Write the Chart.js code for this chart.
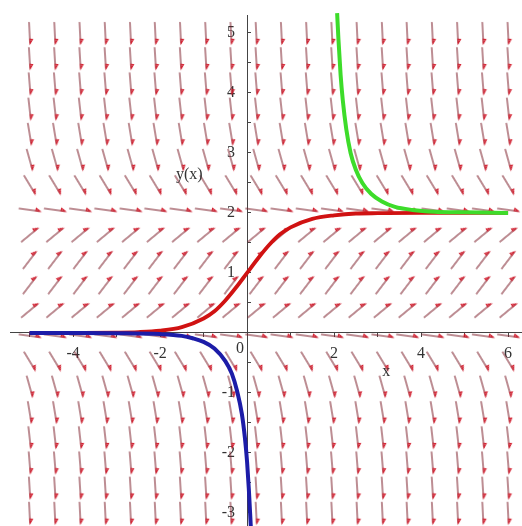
<!DOCTYPE html>
<html>
<head>
<meta charset="utf-8">
<script src="https://cdn.jsdelivr.net/npm/chart.js@4/dist/chart.umd.min.js"></script>
<style>
html,body{margin:0;padding:0;background:#ffffff;}
#wrap{width:522px;height:526px;position:relative;}
</style>
</head>
<body>
<div id="wrap"><canvas id="c" width="522" height="526"></canvas></div>
<script>
// ---- direction field grid ----
const fieldX = [-5, -4.42, -3.84, -3.26, -2.68, -2.11, -1.53, -0.95, -0.37, 0.21, 0.79, 1.37, 1.95, 2.53, 3.11, 3.68, 4.26, 4.84, 5.42, 6.0];
const fieldY = [-3, -2.58, -2.16, -1.74, -1.32, -0.89, -0.47, -0.05, 0.37, 0.79, 1.21, 1.63, 2.05, 2.47, 2.89, 3.32, 3.74, 4.16, 4.58, 5.0];
const fieldSlope = [-15, -11.8, -9, -6.5, -4.4, -2.6, -1.2, -0.1, 0.6, 0.95, 0.95, 0.6, -0.1, -1.2, -2.6, -4.4, -6.5, -9, -11.8, -15];

// ---- solution curves ----
const redX = [-5, -4, -3, -2.5, -2, -1.5, -1, -0.75, -0.5, -0.25, 0, 0.25, 0.5, 0.75, 1, 1.5, 2, 2.5, 3, 4, 5, 6];
const redY = [0, 0.001, 0.005, 0.013, 0.036, 0.095, 0.24, 0.36, 0.54, 0.76, 1.0, 1.24, 1.46, 1.64, 1.76, 1.9, 1.96, 1.99, 1.995, 2.0, 2.0, 2.0];
const blueX = [-5, -4, -3, -2, -1.5, -1.25, -1, -0.75, -0.5, -0.35, -0.23, -0.12, -0.05, 0, 0.04, 0.085];
const blueY = [0, -0.001, -0.005, -0.02, -0.05, -0.09, -0.15, -0.26, -0.47, -0.68, -0.97, -1.35, -1.75, -2.15, -2.6, -3.22];
const greenX = [2.07, 2.1, 2.15, 2.2, 2.28, 2.38, 2.5, 2.65, 2.85, 3.1, 3.4, 3.8, 4.3, 5.0, 6.0];
const greenY = [5.33, 4.9, 4.3, 3.88, 3.4, 3.0, 2.72, 2.5, 2.32, 2.19, 2.1, 2.05, 2.02, 2.01, 2.0];

// ---- tick labels ----
const xTickLabels = [-4, -2, 2, 4, 6];
const yTickLabels = [-3, -2, -1, 1, 2, 3, 4, 5];
const originLabel = '0';
const xTitle = 'x';
const yTitle = 'y(x)';

const toPts = (xs, ys) => xs.map((x, i) => ({x: x, y: ys[i]}));
const fieldPts = [];
fieldY.forEach((y, r) => fieldX.forEach(x => fieldPts.push({x: x, y: y, s: fieldSlope[r]})));

function makeArrow() {
  const c = document.createElement('canvas');
  c.width = 26; c.height = 26;
  const g = c.getContext('2d');
  g.lineCap = 'round';
  g.strokeStyle = 'rgb(125,28,40)';
  g.lineWidth = 1.2;
  g.beginPath(); g.moveTo(2.5, 13); g.lineTo(23, 13); g.stroke();
  g.strokeStyle = 'rgb(210,28,45)';
  g.lineWidth = 1.1;
  g.beginPath(); g.moveTo(23.5, 13); g.lineTo(19.2, 13); g.lineTo(19.6, 10.5); g.closePath(); g.stroke();
  return c;
}
const arrowImg = makeArrow();

const FONT = {family: '"Liberation Serif", "Times New Roman", serif', size: 16};
const TXT = '#333333';

const labelPlugin = {
  id: 'mapleLabels',
  afterDatasetsDraw(chart) {
    const {ctx, scales: {x, y}} = chart;
    ctx.save();
    ctx.font = '16px "Liberation Serif", "Times New Roman", serif';
    ctx.fillStyle = TXT;
    ctx.textAlign = 'center';
    ctx.textBaseline = 'middle';
    ctx.fillText(yTitle, x.getPixelForValue(-1.33), y.getPixelForValue(2.63));
    ctx.fillText(xTitle, x.getPixelForValue(3.2), y.getPixelForValue(-0.65));
    ctx.fillText(originLabel, x.getPixelForValue(-0.16), y.getPixelForValue(0) + 16);
    ctx.restore();
  }
};

const noPad = (scale) => { scale.paddingLeft = 0; scale.paddingRight = 0; scale.paddingTop = 0; scale.paddingBottom = 0; };

new Chart(document.getElementById('c'), {
  type: 'scatter',
  data: {
    datasets: [
      {data: toPts(greenX, greenY), showLine: true, borderColor: '#3ddc2a', borderWidth: 4, pointRadius: 0, cubicInterpolationMode: 'monotone', clip: false},
      {data: toPts(blueX, blueY), showLine: true, borderColor: '#1c1ca8', borderWidth: 4, pointRadius: 0, cubicInterpolationMode: 'monotone', clip: false},
      {data: toPts(redX, redY), showLine: true, borderColor: '#d01212', borderWidth: 3.8, pointRadius: 0, cubicInterpolationMode: 'monotone', clip: false},
      {data: fieldPts, showLine: false, pointStyle: arrowImg, pointRadius: 3,
       rotation: (ctx) => {
         if (ctx.type !== 'data' || !ctx.raw) return 0;
         const sx = ctx.chart.scales.x, sy = ctx.chart.scales.y;
         const px = sx.getPixelForValue(1) - sx.getPixelForValue(0);
         const py = sy.getPixelForValue(0) - sy.getPixelForValue(1);
         return Math.atan2(-ctx.raw.s * py, px) * 180 / Math.PI;
       },
       clip: false}
    ]
  },
  options: {
    responsive: false,
    animation: false,
    events: [],
    layout: {autoPadding: false, padding: {left: 10, top: 15, right: 0, bottom: 0}},
    plugins: {legend: {display: false}, tooltip: {enabled: false}},
    scales: {
      x: {
        type: 'linear', min: -5.45, max: 6.32, position: {y: 0},
        afterFit: noPad,
        border: {display: true, color: '#444', width: 1},
        grid: {drawOnChartArea: false, drawTicks: true, tickLength: 4, color: '#444'},
        ticks: {stepSize: 1, includeBounds: false, autoSkip: false, maxRotation: 0, padding: 7, color: TXT, font: FONT,
                callback: (v) => xTickLabels.includes(v) ? String(v) : ''}
      },
      y: {
        type: 'linear', min: -3.22, max: 5.3, position: {x: 0},
        afterFit: noPad,
        border: {display: true, color: '#444', width: 1},
        grid: {drawOnChartArea: false, drawTicks: true, tickLength: -4, color: '#444'},
        ticks: {stepSize: 0.5, includeBounds: false, autoSkip: false, padding: 8, color: TXT, font: FONT,
                callback: (v) => yTickLabels.includes(v) ? String(v) + '   ' : ''}
      }
    }
  },
  plugins: [labelPlugin]
});
</script>
</body>
</html>
